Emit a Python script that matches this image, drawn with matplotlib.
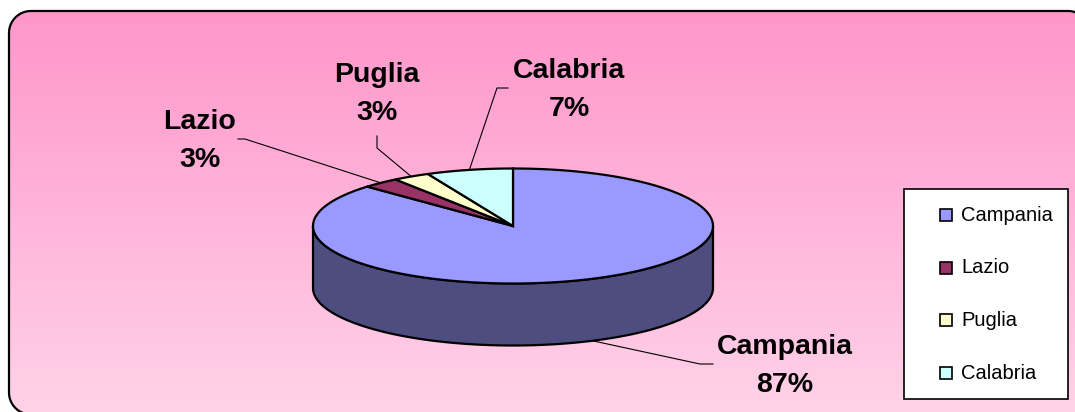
import numpy as np
import matplotlib.pyplot as plt
from matplotlib.patches import Polygon, Rectangle

# data
regions = ["Campania", "Lazio", "Puglia", "Calabria"]
shares = [87, 3, 3, 7]
top_colors = ["#9999FF", "#993366", "#FFFFCC", "#CCFFFF"]
side_colors = ["#4D4D80", "#4D1A33", "#80806A", "#6A8080"]

# layout (pixel coords, y downwards)
cx, cy, rx, ry, depth = 513, 226, 200, 57.5, 62
label_pos = [(785, 366), (200, 141), (377, 94), (569, 90)]
elbow = [[(713, 364), (700, 364)], [(238, 139), (245, 139)],
         [(377, 136), (377, 148)], [(508, 88), (497, 88)]]

plt.rcParams["font.family"] = ["Liberation Sans", "DejaVu Sans"]

fig = plt.figure(figsize=(10.75, 4.12), dpi=100)
ax = fig.add_axes([0, 0, 1, 1])
ax.set_xlim(0, 1075)
ax.set_ylim(412, 0)
ax.axis("off")


def rounded_rect(x0, y0, x1, y1, r, n=30):
    pts = []
    for (ccx, ccy, a0) in [(x1 - r, y0 + r, -90), (x1 - r, y1 - r, 0),
                           (x0 + r, y1 - r, 90), (x0 + r, y0 + r, 180)]:
        a = np.radians(np.linspace(a0, a0 + 90, n))
        pts.append(np.column_stack([ccx + r * np.cos(a), ccy + r * np.sin(a)]))
    return np.vstack(pts)


# rounded pink background with vertical gradient
frame = Polygon(rounded_rect(9, 11, 1090, 414.5, 22), closed=True,
                facecolor="none", edgecolor="black", lw=1.6, zorder=2)
ax.add_patch(frame)
top = np.array([255, 150, 202]) / 255
bot = np.array([255, 210, 233]) / 255
t = np.linspace(0, 1, 256)[:, None, None]
grad = top * (1 - t) + bot * t
im = ax.imshow(grad, extent=(9, 1090, 415, 11), aspect="auto", zorder=0)
im.set_clip_path(frame)
ax.set_xlim(0, 1075)
ax.set_ylim(412, 0)


def ell(a, dy=0):
    a = np.radians(a)
    return np.column_stack([cx + rx * np.cos(a), cy + dy - ry * np.sin(a)])


# slice angles: start at 12 o'clock, clockwise
bounds = 90 - 360 * np.concatenate([[0], np.cumsum(shares)]) / sum(shares)

# side walls (front half only)
for i in range(len(shares)):
    hi, lo = bounds[i], bounds[i + 1]
    for wlo, whi in [(-180, 0), (180, 360), (-540, -360)]:
        a0, a1 = max(lo, wlo), min(hi, whi)
        if a1 > a0:
            a = np.linspace(a0, a1, 200)
            pts = np.vstack([ell(a), ell(a[::-1], depth)])
            ax.add_patch(Polygon(pts, closed=True, facecolor=side_colors[i],
                                 edgecolor="black", lw=1.6, zorder=3))

# top faces
for i in range(len(shares)):
    a = np.linspace(bounds[i], bounds[i + 1], 300)
    pts = np.vstack([[cx, cy], ell(a)])
    ax.add_patch(Polygon(pts, closed=True, facecolor=top_colors[i],
                         edgecolor="black", lw=1.6, zorder=4))

# labels and leader lines
for i, name in enumerate(regions):
    mid = (bounds[i] + bounds[i + 1]) / 2
    p = ell(np.array([mid]))[0]
    if np.sin(np.radians(mid)) < 0:
        p[1] += depth
    xs = [elbow[i][0][0], elbow[i][1][0], p[0]]
    ys = [elbow[i][0][1], elbow[i][1][1], p[1]]
    ax.plot(xs, ys, color="black", lw=0.8, zorder=5)
    lx, ly = label_pos[i]
    ax.text(lx, ly, f"{name}\n{shares[i]}%", ha="center", va="center",
            fontsize=20.5, fontweight="bold", linespacing=1.6, zorder=6)

# legend
ax.add_patch(Rectangle((904, 189), 164, 210, facecolor="white",
                       edgecolor="black", lw=1.2, zorder=5))
for i, name in enumerate(regions):
    y = 215 + i * 52.7
    ax.add_patch(Rectangle((940, y - 6), 12, 12, facecolor=top_colors[i],
                           edgecolor="black", lw=1.2, zorder=6))
    ax.text(961, y, name, ha="left", va="center", fontsize=14.5, zorder=6)

fig.savefig("out.png", dpi=100)
